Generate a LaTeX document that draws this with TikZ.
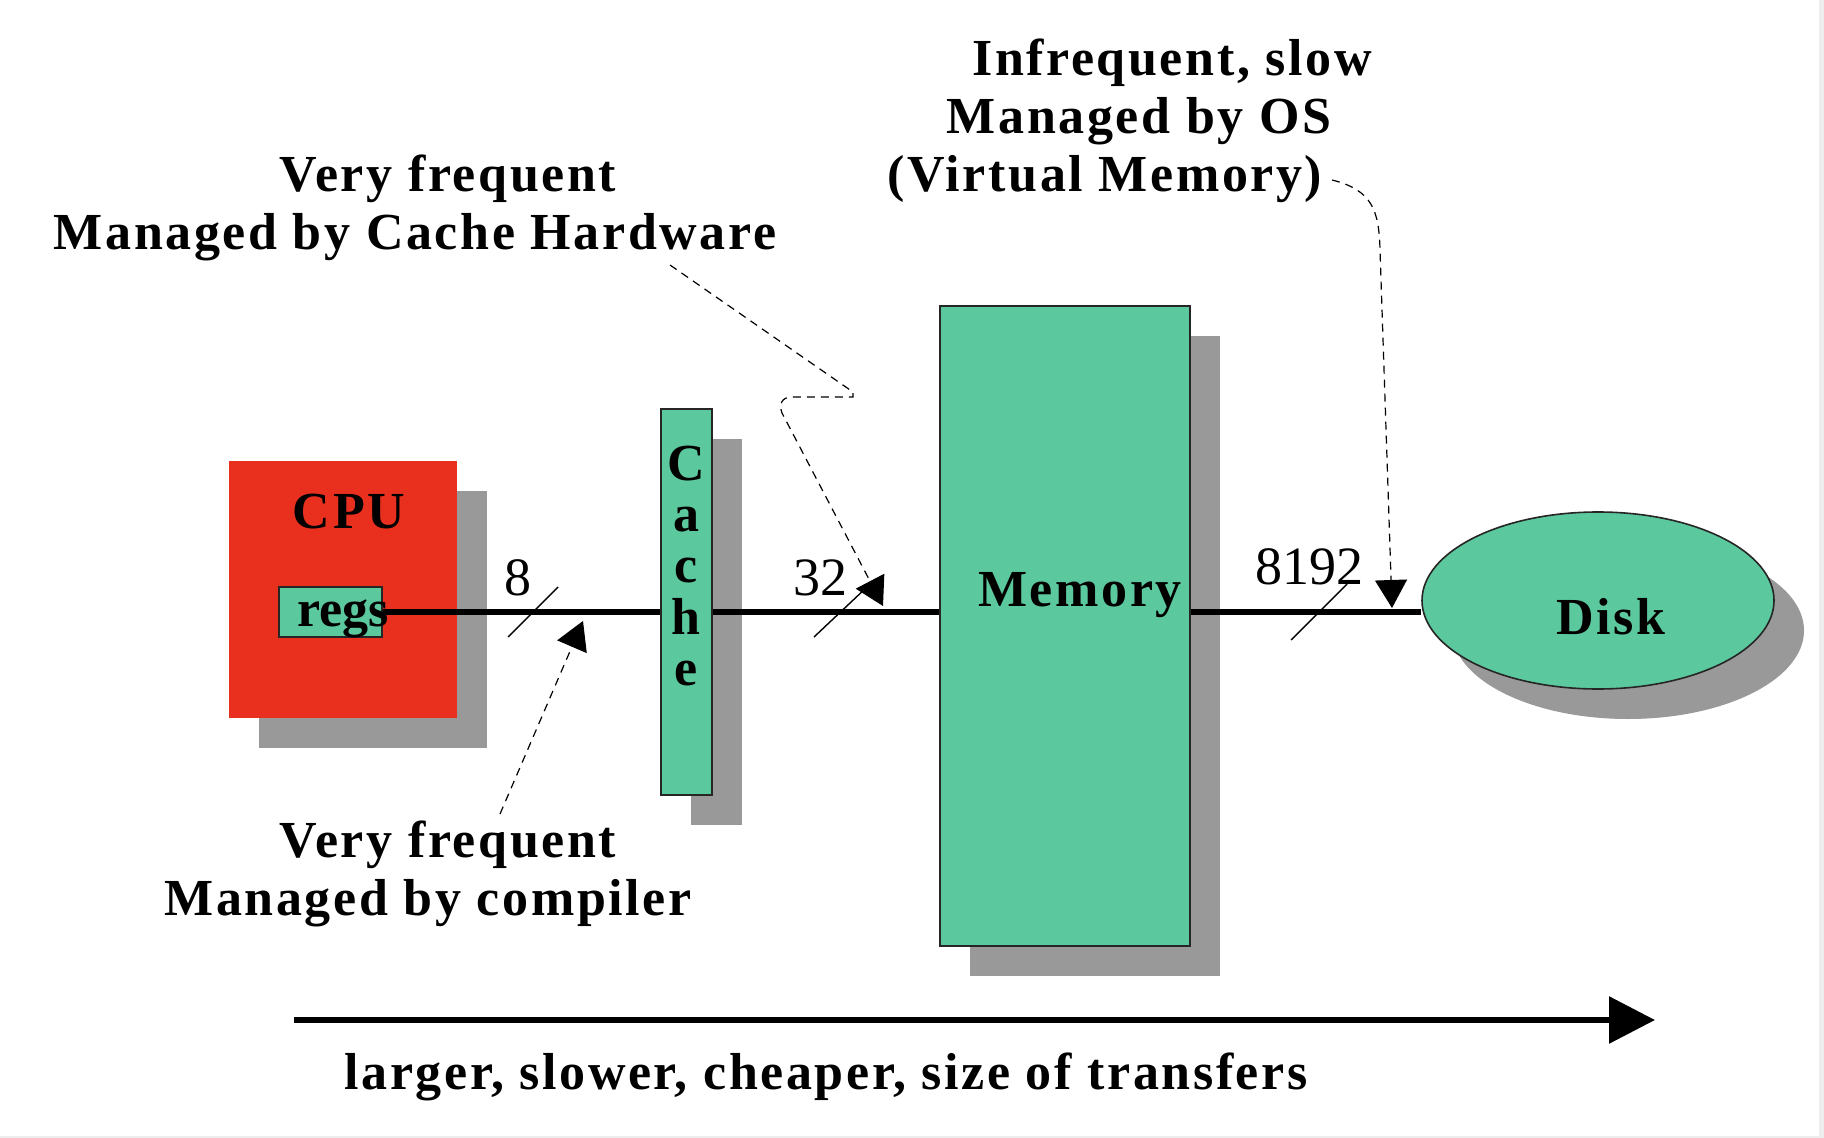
\documentclass[tikz,border=0pt]{standalone}
\usepackage{fontspec}
\setmainfont{Liberation Serif}
\newfontfamily\lblfont[LetterSpace=5]{Liberation Serif}
\usetikzlibrary{arrows.meta,shapes.geometric,shadows}
\definecolor{memgreen}{RGB}{91,200,157}
\definecolor{cpured}{RGB}{233,48,31}
\definecolor{shade}{RGB}{153,153,153}
\tikzset{
  lbl/.style={font=\lblfont\bfseries\fontsize{26}{29}\selectfont, inner sep=0pt, align=center},
  num/.style={font=\fontsize{27}{30}\selectfont, inner sep=0pt},
  box/.style={rectangle, draw=black!85, line width=0.8pt, fill=memgreen, inner sep=0pt},
  shadowed/.style={drop shadow={shadow xshift=15pt, shadow yshift=-15pt, fill=shade, opacity=1}},
  bus/.style={line width=3pt},
  tick/.style={line width=0.7pt},
  annot/.style={dash pattern=on 4pt off 3pt, line width=0.6pt, -{Triangle[length=14pt,width=16pt]}},
  big/.style={line width=3pt, -{Triangle[length=23pt,width=23pt]}},
}
\begin{document}
\begin{tikzpicture}[x=0.5pt,y=-0.5pt]
\useasboundingbox (0,0) rectangle (1824,1138);
\fill[white] (0,0) rectangle (1824,1138);
\fill[black!7] (1819,0) rectangle (1824,1138);
\fill[black!7] (0,1136) rectangle (1824,1138);

% components
\node[box, fill=cpured, draw=none, shadowed, minimum width=114pt, minimum height=128.5pt] (cpu) at (343,589.5) {};
\node[lbl] (cpulbl) at (349,512) {CPU};
\node[box, line width=1pt, minimum width=51.5pt, minimum height=25pt] (regs) at (330.5,612) {};
\node[lbl, font=\fontsize{26}{29}\selectfont\bfseries] (regslbl) at (343,619) {regs};
\node[box, shadowed, minimum width=25.5pt, minimum height=193pt] (cache) at (686.5,602) {};
\node[lbl, font=\lblfont\bfseries\fontsize{26}{25.7}\selectfont] (cachelbl) at (686,566) {C\\a\\c\\h\\e};
\node[box, shadowed, minimum width=125pt, minimum height=320pt] (mem) at (1065,626) {};
\node[lbl] (memlbl) at (1080,595) {Memory};
\node[ellipse, draw=black!85, line width=0.8pt, fill=memgreen, shadowed, minimum width=176pt, minimum height=88.5pt, inner sep=0pt] (disk) at (1598,600.5) {};
\node[lbl] (disklbl) at (1611,617) {Disk};

% buses
\draw[bus] (regs.east) -- (regs.east -| cache.west);
\draw[bus] (regs.east -| cache.east) -- (regs.east -| mem.west);
\draw[bus] (regs.east -| mem.east) -- (regs.east -| disk.west);

% width ticks and numbers
\draw[tick] (508,637) -- (558,587);
\draw[tick] (814,637) -- (867,587);
\draw[tick] (1291,640) -- (1347,584);
\node[num] (n8) at (518,578) {8};
\node[num] (n32) at (820,578) {32};
\node[num] (n8192) at (1309,567) {8192};

% annotations
\node[lbl] (hwlbl) at (431.5,208) {\rule{16.5pt}{0pt}Very frequent\\Managed by Cache Hardware\rule{16.5pt}{0pt}};
\node[lbl] (oslbl) at (1139,121) {\rule{33pt}{0pt}Infrequent, slow\\Managed by OS\\(Virtual Memory)\rule{34pt}{0pt}};
\node[lbl] (complbl) at (438,874) {\rule{10pt}{0pt}Very frequent\\Managed by compiler\rule{10pt}{0pt}};

\coordinate (hwfrom) at (670,265);
\coordinate (cachetip) at (883,606);
\coordinate (compfrom) at (500,814);
\coordinate (comptip) at (583,621);
\coordinate (osfrom) at (1332,180);
\coordinate (ostip) at (1392,608);

\draw[annot] (hwfrom) -- (853,392) -- (853,397) -- (792,397) .. controls (781,397) and (779,405) .. (782,413) -- (cachetip);
\draw[annot] (compfrom) -- (comptip);
\draw[annot] (osfrom) .. controls (1372,190) and (1379,210) .. (1380,250) -- (ostip);

% bottom arrow
\coordinate (bigfrom) at (294,1020);
\coordinate (bigto) at (1655,1020);
\draw[big] (bigfrom) -- (bigto);
\node[lbl] (bottomlbl) at (826,1077) {larger, slower, cheaper, size of transfers};
\end{tikzpicture}
\end{document}
